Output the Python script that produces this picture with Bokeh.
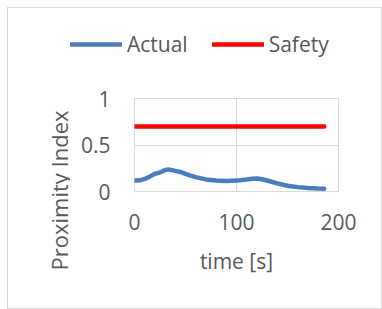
import math
from bokeh.plotting import figure
from bokeh.layouts import row, column
from bokeh.models import Legend, LegendItem, Label, FixedTicker
from bokeh.embed import file_html
from bokeh.resources import INLINE

# data
time_s = [0, 5, 10, 15, 20, 25, 30, 33, 36, 40, 45, 50, 55, 60, 70, 80, 90,
          100, 110, 115, 120, 125, 130, 140, 150, 160, 170, 180, 186]
actual = [0.117, 0.12, 0.135, 0.16, 0.19, 0.205, 0.23, 0.238, 0.232, 0.222,
          0.21, 0.19, 0.17, 0.155, 0.13, 0.118, 0.113, 0.117, 0.13, 0.137,
          0.14, 0.132, 0.118, 0.088, 0.062, 0.047, 0.038, 0.032, 0.029]
safety_t = [0, 186]
safety = [0.7, 0.7]
x_ticks = [0, 100, 200]
y_ticks = [0, 0.5, 1]
y_tick_labels = {0: "0", 0.5: "0.5", 1: "1"}
series_names = ["Actual", "Safety"]
series_colors = ["#4a7ebb", "#ff0000"]
series_x = [time_s, safety_t]
series_y = [actual, safety]

FONT = "Open Sans"
TXT = "#595959"
GRID = "#d9d9d9"
LW = 4.5


def blank(w, h):
    f = figure(width=w, height=h, x_range=(0, w), y_range=(0, h),
               output_backend="svg", toolbar_location=None,
               min_border=0, x_axis_location=None, y_axis_location=None)
    f.outline_line_color = None
    f.grid.visible = False
    try:
        f.frame_align = False
    except Exception:
        pass
    return f


# top strip: legend (its swatches come from hidden copies of the series)
leg = blank(373, 74)
leg_items = []
for name, col, xs, ys in zip(series_names, series_colors, series_x, series_y):
    r = leg.line(xs, ys, line_color=col, line_width=LW, line_cap="round", visible=False)
    leg_items.append(LegendItem(label=name, renderers=[r]))
legend = Legend(items=leg_items, orientation="horizontal", location=(62, 24),
                glyph_width=52, glyph_height=24, label_height=24,
                label_standoff=5, spacing=24, padding=0, margin=0,
                border_line_color=None, background_fill_alpha=0,
                inactive_fill_alpha=0,
                label_text_font=FONT, label_text_font_size="21px",
                label_text_color=TXT)
leg.add_layout(legend)

# left strip: rotated y-axis title
lab = blank(62, 226)
lab.add_layout(Label(x=50, y=118, text="Proximity Index", angle=math.pi / 2,
                     text_align="center", text_baseline="middle",
                     text_font=FONT, text_font_size="22px", text_color=TXT))

# main plot
p = figure(width=311, height=226, x_range=(0, 200), y_range=(0, 1),
           output_backend="svg", toolbar_location=None,
           min_border_left=64, min_border_right=43,
           min_border_top=16, min_border_bottom=117)
p.outline_line_color = GRID

p.line(time_s, actual, line_color=series_colors[0], line_width=LW, line_cap="round")
p.line(safety_t, safety, line_color=series_colors[1], line_width=LW, line_cap="round")

for ax in (p.xaxis[0], p.yaxis[0]):
    ax.axis_line_color = None
    ax.major_tick_line_color = None
    ax.minor_tick_line_color = None
    ax.major_label_text_font = FONT
    ax.major_label_text_font_size = "21px"
    ax.major_label_text_color = TXT
    ax.axis_label_text_font = FONT
    ax.axis_label_text_font_size = "21px"
    ax.axis_label_text_color = TXT
    ax.axis_label_text_font_style = "normal"

p.xaxis.ticker = FixedTicker(ticks=x_ticks)
p.yaxis.ticker = FixedTicker(ticks=y_ticks)
p.yaxis.major_label_overrides = y_tick_labels
p.xaxis.major_label_standoff = 16
p.yaxis.major_label_standoff = 18
p.xaxis.axis_label = "time [s]"
p.xaxis.axis_label_standoff = 14

p.xgrid.ticker = FixedTicker(ticks=x_ticks)
p.ygrid.ticker = FixedTicker(ticks=y_ticks)
p.grid.grid_line_color = GRID
p.grid.grid_line_width = 1

layout = column(leg, row(lab, p, spacing=0), spacing=0)
layout.styles = {"border": "1px solid #d9d9d9", "margin-left": "7px", "margin-top": "7px"}

open("out.html", "w").write(file_html(layout, INLINE))
